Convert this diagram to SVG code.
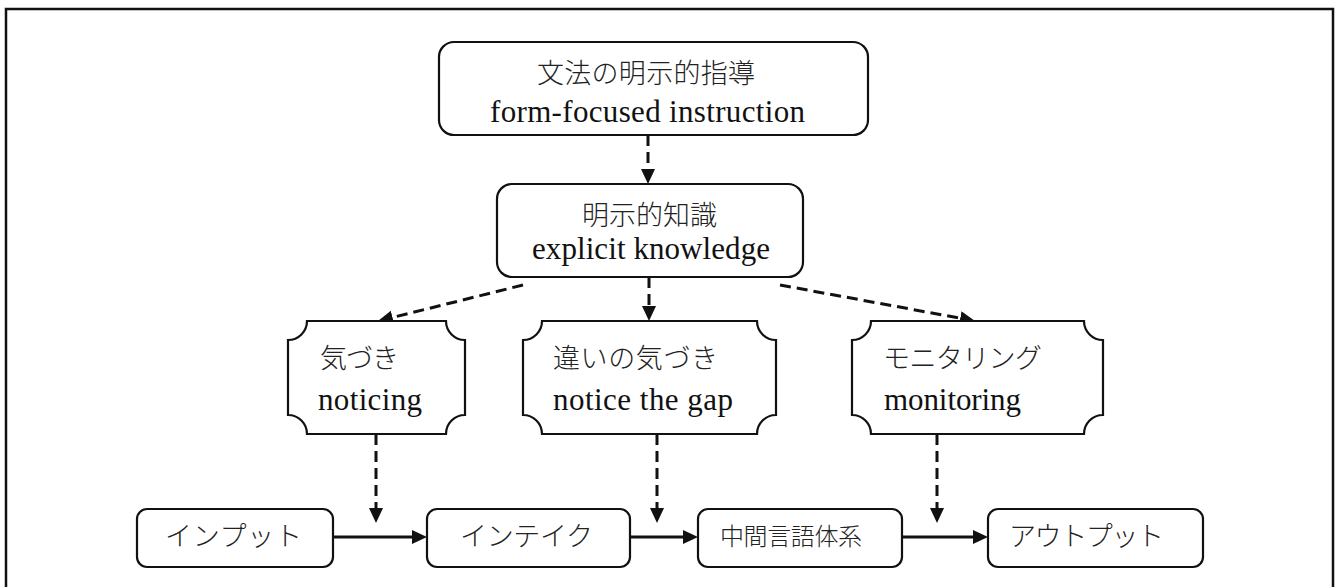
<svg xmlns="http://www.w3.org/2000/svg" width="1339" height="587" viewBox="0 0 1339 587">
<style>
.box{fill:#fff;stroke:#111;stroke-width:2.2}
.ja{font-family:"Noto Sans CJK JP","Noto Sans CJK SC",sans-serif;font-size:27px;font-weight:300;fill:#222}
.en{font-family:"Liberation Serif","Times New Roman",serif;font-size:31px;fill:#111}
.dash{fill:none;stroke:#111;stroke-width:3;stroke-dasharray:11 6}
.solid{fill:none;stroke:#111;stroke-width:3}
</style>
<defs>
<marker id="ah" markerUnits="userSpaceOnUse" markerWidth="16" markerHeight="15" refX="3" refY="7" orient="auto">
<path d="M0,0 L15,7 L0,14 z" fill="#111"/>
</marker>
</defs>
<rect x="6" y="9" width="1327" height="600" fill="#fff" stroke="#111" stroke-width="2.5"/>

<g id="connectors">
<path class="dash" d="M648,135 V172" marker-end="url(#ah)"/>
<path class="dash" d="M649,277 V309" marker-end="url(#ah)"/>
<path class="dash" d="M523,285 L389.6,318.2" marker-end="url(#ah)"/>
<path class="dash" d="M780,285 L963.2,318.8" marker-end="url(#ah)"/>
<path class="dash" d="M376,434 V511" marker-end="url(#ah)"/>
<path class="dash" d="M657,434 V511" marker-end="url(#ah)"/>
<path class="dash" d="M937,434 V511" marker-end="url(#ah)"/>
<path class="solid" d="M333,537 H415" marker-end="url(#ah)"/>
<path class="solid" d="M630,537 H686" marker-end="url(#ah)"/>
<path class="solid" d="M902,537 H976" marker-end="url(#ah)"/>
</g>

<g id="node-instruction">
<rect class="box" x="439" y="42" width="429" height="93" rx="15"/>
<text class="ja" x="537" y="83" textLength="218">文法の明示的指導</text>
<text class="en" x="490" y="122" textLength="315">form-focused instruction</text>
</g>

<g id="node-explicit">
<rect class="box" x="497" y="184" width="306" height="93" rx="15"/>
<text class="ja" x="582" y="225" textLength="135">明示的知識</text>
<text class="en" x="532" y="259" textLength="238">explicit knowledge</text>
</g>

<g id="node-noticing">
<path class="box" d="M307,321 H446 A19,19 0 0 0 465,340 V415 A19,19 0 0 0 446,434 H307 A19,19 0 0 0 288,415 V340 A19,19 0 0 0 307,321 Z"/>
<text class="ja" x="320" y="368" textLength="79">気づき</text>
<text class="en" x="318" y="410" textLength="104">noticing</text>
</g>

<g id="node-gap">
<path class="box" d="M542,321 H757 A19,19 0 0 0 776,340 V415 A19,19 0 0 0 757,434 H542 A19,19 0 0 0 523,415 V340 A19,19 0 0 0 542,321 Z"/>
<text class="ja" x="553" y="368" textLength="165">違いの気づき</text>
<text class="en" x="553" y="410" textLength="180">notice the gap</text>
</g>

<g id="node-monitoring">
<path class="box" d="M871,321 H1084 A19,19 0 0 0 1103,340 V415 A19,19 0 0 0 1084,434 H871 A19,19 0 0 0 852,415 V340 A19,19 0 0 0 871,321 Z"/>
<text class="ja" x="883" y="368" textLength="159">モニタリング</text>
<text class="en" x="884" y="410" textLength="137">monitoring</text>
</g>

<g id="node-input">
<rect class="box" x="137" y="509" width="196" height="58" rx="10"/>
<text class="ja" x="165" y="546" textLength="137">インプット</text>
</g>

<g id="node-intake">
<rect class="box" x="427" y="509" width="203" height="58" rx="10"/>
<text class="ja" x="460" y="546" textLength="133">インテイク</text>
</g>

<g id="node-interlanguage">
<rect class="box" x="698" y="509" width="204" height="58" rx="10"/>
<text class="ja" x="720" y="545" style="font-size:24px" textLength="142">中間言語体系</text>
</g>

<g id="node-output">
<rect class="box" x="988" y="509" width="215" height="58" rx="10"/>
<text class="ja" x="1009" y="546" textLength="155">アウトプット</text>
</g>
</svg>
